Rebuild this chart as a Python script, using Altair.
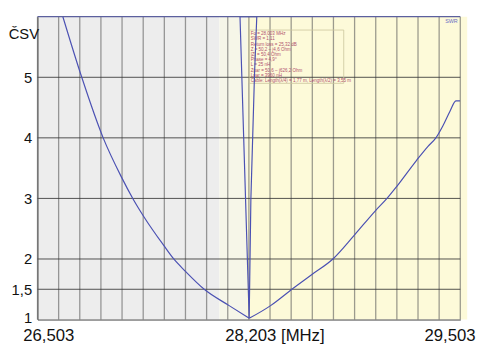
import altair as alt
import pandas as pd

# ---- data (sweep order) ----
left_f = [26.683, 26.817, 26.969, 27.097, 27.179, 27.260, 27.400, 27.470, 27.551, 27.686, 27.863, 28.005]
left_swr = [6.0, 5.0, 4.0, 3.36, 3.0, 2.69, 2.22, 2.0, 1.80, 1.5, 1.23, 1.02]
spike_f = [28.005, 27.940, 28.059, 28.043, 28.017, 28.005]
spike_swr = [1.02, 6.0, 6.0, 5.06, 2.98, 1.02]
right_f = [28.005, 28.157, 28.308, 28.448, 28.599, 28.750, 28.902, 28.983, 29.053, 29.193, 29.274, 29.330,
           29.380, 29.430, 29.472, 29.503]
right_swr = [1.02, 1.23, 1.5, 1.74, 2.0, 2.39, 2.80, 3.0, 3.2, 3.63, 3.86, 4.0,
             4.2, 4.44, 4.61, 4.61]

x_grid = [26.503, 26.653, 26.803, 26.953, 27.103, 27.253, 27.403, 27.553, 27.703, 27.853, 28.003,
          28.153, 28.303, 28.453, 28.603, 28.753, 28.903, 29.053, 29.203, 29.353, 29.503]
y_grid = [1.5, 2, 3, 4, 5]
y_top = 6

x_ticks = [26.503, 28.003, 29.503]
x_tick_labels = ["26,503", "28,203 [MHz]", "29,503"]
y_ticks = [1, 1.5, 2, 3, 4, 5]
y_tick_labels = ["1", "1,5", "2", "3", "4", "5"]

band_start = [26.503, 27.794, 27.990]
band_end = [27.794, 27.990, 29.552]
band_color = ["#ededed", "#f6f6e8", "#fdfad9"]

info_lines = [
    "Fo = 28,003 MHz",
    "SWR = 1,11",
    "Return loss = 25,32 dB",
    "Z = 50,2 \u2013 j4,6 Ohm",
    "|Z| = 50,4 Ohm",
    "Phase = 4,9\u00b0",
    "L = 25 nH",
    "Zpar = 50,6 \u2013 j626,2 Ohm",
    "Lpar = 3960 nH",
    "Cable: Length(\u03bb/4) = 1,77 m, Length(\u03bb/2) = 3,55 m",
]
info_box_x = [28.005, 28.676]
info_box_y = [5.78, 4.90]
swr_tag = {"f": 29.485, "v": 6.0, "text": "SWR"}


def cond_expr(vals, labels):
    expr = "''"
    for v, l in reversed(list(zip(vals, labels))):
        expr = f"abs(datum.value - {v}) < 0.0005 ? '{l}' : {expr}"
    return expr


xs = alt.Scale(domain=[26.503, 29.503], nice=False, zero=False)
ys = alt.Scale(domain=[1, 6], nice=False, zero=False)

x_axis = alt.Axis(
    values=x_ticks, labelExpr=cond_expr(x_ticks, x_tick_labels), title=None, grid=False,
    ticks=False, tickSize=0, labelFont="Liberation Sans", labelFontSize=17, labelColor="#111",
    labelPadding=21, labelBaseline="alphabetic", labelFlush=True, labelFlushOffset=15,
    labelOverlap=False, labelBound=False,
    labelOffset={"condition": {"test": "abs(datum.value - 28.003) < 0.0005", "value": 26}, "value": 0},
    domainColor="#444", domainWidth=1, zindex=1,
)
y_axis = alt.Axis(
    values=y_ticks, labelExpr=cond_expr(y_ticks, y_tick_labels), title="\u010cSV", grid=False,
    ticks=False, tickSize=0, labelFont="Liberation Sans", labelFontSize=15, labelColor="#111",
    labelPadding=6, labelBaseline="middle", labelOverlap=False,
    labelOffset={"condition": {"test": "abs(datum.value - 1) < 0.0005", "value": -2}, "value": 0},
    titleAngle=0, titleAlign="right", titleBaseline="alphabetic", titleX=1, titleY=22,
    titleFont="Liberation Sans", titleFontSize=15, titleFontWeight="normal", titleColor="#111",
    domainColor="#555", domainWidth=1, zindex=1,
)

bands = alt.Chart(pd.DataFrame({"s": band_start, "e": band_end, "c": band_color})).mark_rect().encode(
    x=alt.X("s:Q", scale=xs, axis=x_axis), x2="e:Q",
    y=alt.YDatum(1, scale=ys, axis=y_axis), y2=alt.Y2Datum(y_top),
    color=alt.Color("c:N", scale=None),
)

vgrid = alt.Chart(pd.DataFrame({"g": x_grid})).mark_rule(color="#5a5a5a", opacity=0.6, strokeWidth=1.3).encode(
    x=alt.X("g:Q", scale=xs, axis=x_axis)
)
hgrid = alt.Chart(pd.DataFrame({"g": y_grid})).mark_rule(color="#333", opacity=0.85, strokeWidth=1).encode(
    y=alt.Y("g:Q", scale=ys, axis=y_axis)
)
top_line = alt.Chart(pd.DataFrame({"t": [y_top]})).mark_rule(color="#5c609e", strokeWidth=1.3).encode(
    y=alt.Y("t:Q", scale=ys, axis=y_axis)
)

info_box = alt.Chart(pd.DataFrame({"x1": [info_box_x[0]], "x2": [info_box_x[1]],
                                   "y1": [info_box_y[0]], "y2": [info_box_y[1]]})).mark_rect(
    fill=None, stroke="#cbc59c", strokeWidth=0.8
).encode(
    x=alt.X("x1:Q", scale=xs, axis=x_axis), x2="x2:Q",
    y=alt.Y("y1:Q", scale=ys, axis=y_axis), y2="y2:Q",
)
info_text = alt.Chart(pd.DataFrame({"x": [info_box_x[0]], "y": [info_box_y[0]],
                                    "t": ["\n".join(info_lines)]})).mark_text(
    align="left", baseline="top", fontSize=4.6, lineHeight=5.3, lineBreak="\n",
    color="#b0506e", font="Liberation Sans", dx=1.5, dy=1.2,
).encode(
    x=alt.X("x:Q", scale=xs, axis=x_axis), y=alt.Y("y:Q", scale=ys, axis=y_axis), text="t:N"
)
tag = alt.Chart(pd.DataFrame([swr_tag])).mark_text(
    align="right", baseline="top", fontSize=5.5, color="#6a6ec4", font="Liberation Sans", dy=2
).encode(
    x=alt.X("f:Q", scale=xs, axis=x_axis), y=alt.Y("v:Q", scale=ys, axis=y_axis), text="text:N"
)

curve_df = pd.DataFrame({
    "f": left_f + spike_f + right_f,
    "swr": left_swr + spike_swr + right_swr,
    "seg": ["left"] * len(left_f) + ["spike"] * len(spike_f) + ["right"] * len(right_f),
})
curve_df["o"] = range(len(curve_df))
curve_base = alt.Chart(curve_df)

branches = curve_base.transform_filter(alt.datum.seg != "spike").mark_line(
    color="#4b51b3", strokeWidth=1.2, clip=True, interpolate="monotone"
).encode(
    x=alt.X("f:Q", scale=xs, axis=x_axis),
    y=alt.Y("swr:Q", scale=ys, axis=y_axis),
    detail="seg:N",
    order="o:Q",
)
spike = curve_base.transform_filter(alt.datum.seg == "spike").mark_line(
    color="#4b51b3", strokeWidth=1.2, clip=True
).encode(
    x=alt.X("f:Q", scale=xs, axis=x_axis),
    y=alt.Y("swr:Q", scale=ys, axis=y_axis),
    order="o:Q",
)

chart = alt.layer(bands, vgrid, hgrid, top_line, info_box, info_text, tag, branches, spike).properties(
    width=430, height=308,
    padding={"left": 30, "top": 6, "right": 17, "bottom": 22},
    autosize=alt.AutoSizeParams(type="none"),
    background="white",
).configure_view(stroke=None)

chart.save("out.html", embed_options={"renderer": "svg", "actions": False})
